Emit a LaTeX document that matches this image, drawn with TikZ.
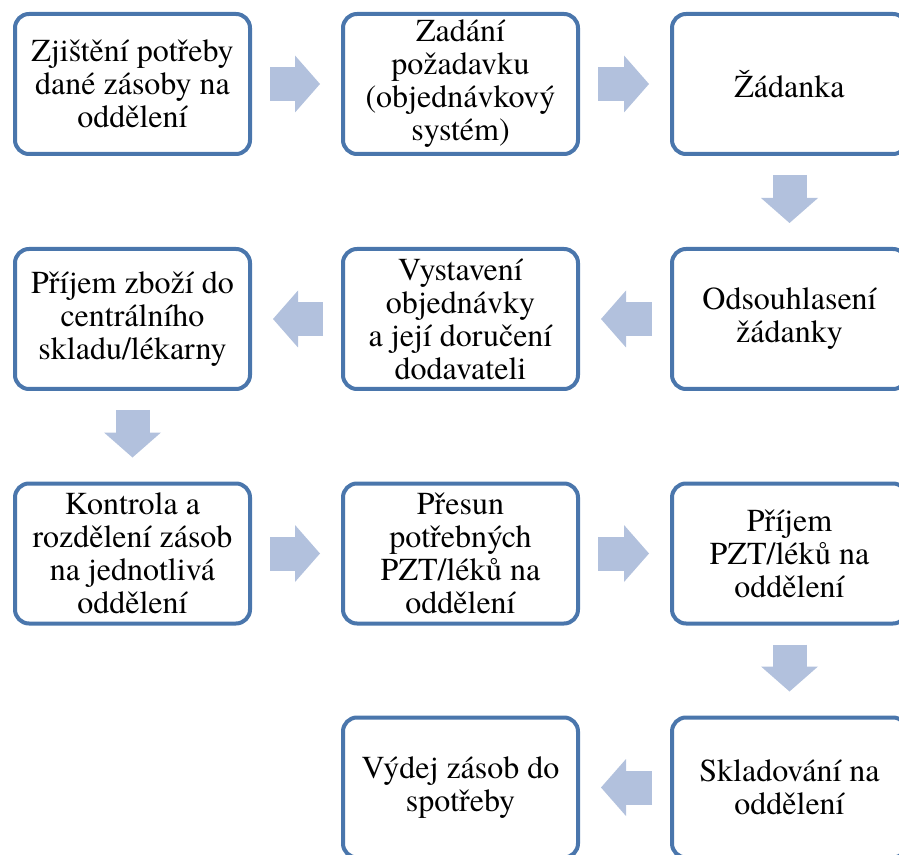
\documentclass[tikz,border=0pt]{standalone}
\usepackage{fontspec}
\setmainfont{texgyretermes}[Extension=.otf, UprightFont=*-regular, BoldFont=*-bold, ItalicFont=*-italic, BoldItalicFont=*-bolditalic]
\usepackage{tikz}
\usetikzlibrary{arrows.meta}
\pgfdeclarelayer{edgelayer}
\pgfdeclarelayer{nodelayer}
\pgfsetlayers{edgelayer,nodelayer,main}
\definecolor{boxblue}{RGB}{74,118,172}
\definecolor{arrowblue}{RGB}{178,193,221}
\tikzstyle{none}=[inner sep=0pt]
\tikzstyle{stepbox}=[draw=boxblue, line width=2pt, rounded corners=7pt, fill=white, minimum width=117.5pt, minimum height=70pt, align=center, inner sep=0pt, font=\fontsize{16}{16.5}\selectfont]
\tikzstyle{flow}=[draw=arrowblue, line width=17pt, -{Triangle[width=28.5pt, length=12.5pt, line width=0pt]}, shorten <=9pt, shorten >=10.5pt]

\begin{document}
\begin{tikzpicture}[x=0.5pt, y=-0.5pt]
	\useasboundingbox (0, 0) rectangle (899, 855);
	\begin{pgfonlayer}{nodelayer}
		\node [style=stepbox] (0) at (132.5, 84) {Zjištění potřeby\\dané zásoby na\\oddělení};
		\node [style=stepbox] (1) at (460.5, 84) {Zadání\\požadavku\\(objednávkový\\systém)};
		\node [style=stepbox] (2) at (789.5, 84) {Žádanka};
		\node [style=stepbox] (3) at (789.5, 319) {Odsouhlasení\\žádanky};
		\node [style=stepbox] (4) at (460.5, 319) {Vystavení\\objednávky\\a její doručení\\dodavateli};
		\node [style=stepbox] (5) at (132.5, 319) {Příjem zboží do\\centrálního\\skladu/lékarny};
		\node [style=stepbox] (6) at (132.5, 553.5) {Kontrola a\\rozdělení zásob\\na jednotlivá\\oddělení};
		\node [style=stepbox] (7) at (460.5, 553.5) {Přesun\\potřebných\\PZT/léků na\\oddělení};
		\node [style=stepbox] (8) at (789.5, 553.5) {Příjem\\PZT/léků na\\oddělení};
		\node [style=stepbox] (9) at (789.5, 787.5) {Skladování na\\oddělení};
		\node [style=stepbox] (10) at (460.5, 787.5) {Výdej zásob do\\spotřeby};
	\end{pgfonlayer}
	\begin{pgfonlayer}{edgelayer}
		\draw [style=flow] (0) to (1);
		\draw [style=flow] (1) to (2);
		\draw [style=flow, shorten <=9.5pt, shorten >=12pt] (2) to (3);
		\draw [style=flow] (3) to (4);
		\draw [style=flow] (4) to (5);
		\draw [style=flow, shorten <=9.5pt, shorten >=12pt] (5) to (6);
		\draw [style=flow] (6) to (7);
		\draw [style=flow] (7) to (8);
		\draw [style=flow, shorten <=9.5pt, shorten >=12pt] (8) to (9);
		\draw [style=flow] (9) to (10);
	\end{pgfonlayer}
\end{tikzpicture}
\end{document}
